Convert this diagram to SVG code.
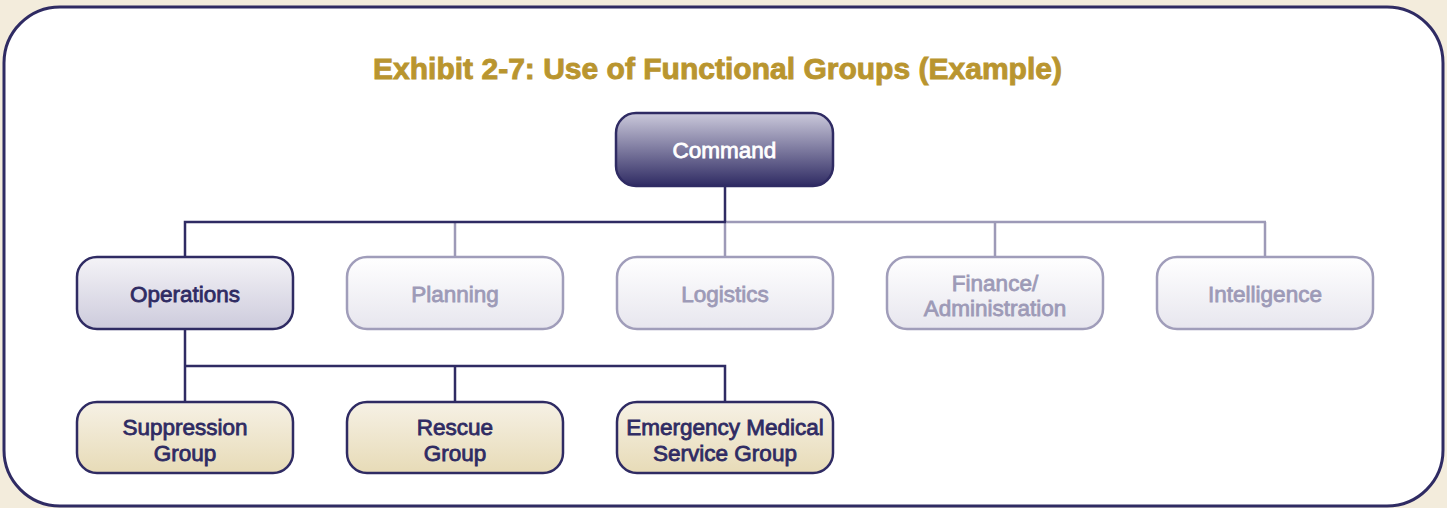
<svg xmlns="http://www.w3.org/2000/svg" width="1447" height="508" viewBox="0 0 1447 508">
<style>
.lbl{font-family:"Liberation Sans",Arial,sans-serif;font-size:22.5px;text-anchor:middle;stroke-width:0.8px;paint-order:stroke}
.dk{fill:#2f2b63;stroke:#2f2b63}
.wh{fill:#ffffff;stroke:#ffffff}
.gy{fill:#9d9ab7;stroke:#9d9ab7}
.title{font-family:"Liberation Sans",Arial,sans-serif;font-size:30px;font-weight:bold;fill:#b9952f;stroke:#b9952f;stroke-width:0.9px;text-anchor:middle}
.nl{stroke:#2f2b63;stroke-width:2.5;fill:none}
.gl{stroke:#9d9ab7;stroke-width:2.5;fill:none}
</style>
<defs>
<linearGradient id="gCmd" x1="0" y1="0" x2="0" y2="1"><stop offset="0" stop-color="#cbc9db"/><stop offset="1" stop-color="#2f2b63"/></linearGradient>
<linearGradient id="gOps" x1="0" y1="0" x2="0" y2="1"><stop offset="0" stop-color="#f4f3f7"/><stop offset="1" stop-color="#cdcbdc"/></linearGradient>
<linearGradient id="gGry" x1="0" y1="0" x2="0" y2="1"><stop offset="0" stop-color="#ffffff"/><stop offset="1" stop-color="#e7e6ee"/></linearGradient>
<linearGradient id="gTan" x1="0" y1="0" x2="0" y2="1"><stop offset="0" stop-color="#f6f1e5"/><stop offset="1" stop-color="#e7dbb7"/></linearGradient>
</defs>
<rect x="0" y="0" width="1447" height="508" fill="#f3ecdc"/>
<rect x="4" y="7" width="1439" height="499" rx="56" ry="56" fill="#ffffff" stroke="#2f2b63" stroke-width="3"/>
<text class="title" x="717.5" y="79" textLength="689" lengthAdjust="spacingAndGlyphs">Exhibit 2-7: Use of Functional Groups (Example)</text>

<g id="connectors">
<line class="gl" x1="725" y1="222" x2="1266" y2="222"/>
<line class="gl" x1="455" y1="222" x2="455" y2="257"/>
<line class="gl" x1="725" y1="222" x2="725" y2="257"/>
<line class="gl" x1="995" y1="222" x2="995" y2="257"/>
<line class="gl" x1="1265" y1="222" x2="1265" y2="257"/>
<line class="nl" x1="725" y1="186" x2="725" y2="222"/>
<polyline class="nl" points="185,257 185,222 726,222"/>
<line class="nl" x1="185" y1="329" x2="185" y2="402"/>
<polyline class="nl" points="185,366 725,366 725,402"/>
<line class="nl" x1="455" y1="366" x2="455" y2="402"/>
</g>

<g id="command">
<rect x="616" y="113" width="217" height="73" rx="20" fill="url(#gCmd)" stroke="#2f2b63" stroke-width="2.5"/>
<text class="lbl wh" x="724.5" y="158">Command</text>
</g>
<g id="operations">
<rect x="77" y="257" width="216" height="72" rx="20" fill="url(#gOps)" stroke="#2f2b63" stroke-width="2.5"/>
<text class="lbl dk" x="185" y="302">Operations</text>
</g>
<g id="planning">
<rect x="347" y="257" width="216" height="72" rx="20" fill="url(#gGry)" stroke="#a09dba" stroke-width="2.5"/>
<text class="lbl gy" x="455" y="302">Planning</text>
</g>
<g id="logistics">
<rect x="617" y="257" width="216" height="72" rx="20" fill="url(#gGry)" stroke="#a09dba" stroke-width="2.5"/>
<text class="lbl gy" x="725" y="302">Logistics</text>
</g>
<g id="finance">
<rect x="887" y="257" width="216" height="72" rx="20" fill="url(#gGry)" stroke="#a09dba" stroke-width="2.5"/>
<text class="lbl gy" x="995" y="291">Finance/</text>
<text class="lbl gy" x="995" y="316">Administration</text>
</g>
<g id="intelligence">
<rect x="1157" y="257" width="216" height="72" rx="20" fill="url(#gGry)" stroke="#a09dba" stroke-width="2.5"/>
<text class="lbl gy" x="1265" y="302">Intelligence</text>
</g>
<g id="suppression">
<rect x="77" y="402" width="216" height="71" rx="20" fill="url(#gTan)" stroke="#2f2b63" stroke-width="2.5"/>
<text class="lbl dk" x="185" y="435">Suppression</text>
<text class="lbl dk" x="185" y="461">Group</text>
</g>
<g id="rescue">
<rect x="347" y="402" width="216" height="71" rx="20" fill="url(#gTan)" stroke="#2f2b63" stroke-width="2.5"/>
<text class="lbl dk" x="455" y="435">Rescue</text>
<text class="lbl dk" x="455" y="461">Group</text>
</g>
<g id="ems">
<rect x="617" y="402" width="216" height="71" rx="20" fill="url(#gTan)" stroke="#2f2b63" stroke-width="2.5"/>
<text class="lbl dk" x="725" y="435">Emergency Medical</text>
<text class="lbl dk" x="725" y="461">Service Group</text>
</g>
</svg>
